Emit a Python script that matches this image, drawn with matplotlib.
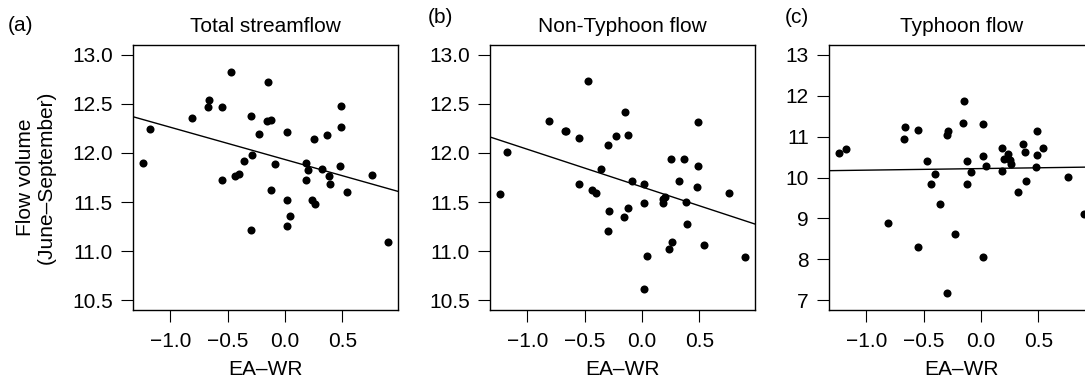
import numpy as np
import matplotlib
matplotlib.use("Agg")
import matplotlib.pyplot as plt

plt.rcParams['font.family'] = ['Liberation Sans', 'DejaVu Sans']

# EA-WR index (same for all three panels)
ea_wr = [-1.24, -1.18, -0.81, -0.67, -0.66, -0.55, -0.55, -0.47, -0.44, -0.40,
         -0.36, -0.30, -0.29, -0.30, -0.23, -0.15, -0.16, -0.12, -0.09, -0.12,
         0.02, 0.02, 0.04, 0.02, 0.18, 0.20, 0.18, 0.25, 0.235, 0.26,
         0.32, 0.37, 0.38, 0.39, 0.49, 0.49, 0.48, 0.545, 0.76, 0.90]

# flow volume (June-September)
total_flow = [11.90, 12.24, 12.36, 12.47, 12.54, 12.47, 11.72, 12.82, 11.77, 11.79,
              11.92, 12.38, 11.98, 11.22, 12.19, 12.72, 12.33, 12.34, 11.89, 11.62,
              12.21, 11.52, 11.36, 11.26, 11.90, 11.83, 11.72, 12.14, 11.52, 11.48,
              11.84, 12.18, 11.77, 11.68, 12.48, 12.26, 11.87, 11.60, 11.78, 11.09]

non_typhoon = [11.58, 12.01, 12.33, 12.22, 12.22, 12.15, 11.68, 12.73, 11.62, 11.59,
               11.84, 12.08, 11.41, 11.20, 12.17, 12.42, 11.35, 12.18, 11.71, 11.44,
               11.68, 11.49, 10.95, 10.61, 11.53, 11.55, 11.49, 11.94, 11.02, 11.09,
               11.71, 11.94, 11.50, 11.28, 12.32, 11.87, 11.65, 11.06, 11.59, 10.94]

typhoon = [10.59, 10.69, 8.88, 10.95, 11.24, 11.16, 8.29, 10.41, 9.83, 10.08,
           9.35, 11.04, 11.13, 7.18, 8.61, 11.87, 11.34, 10.40, 10.13, 9.85,
           11.31, 10.53, 10.28, 8.05, 10.71, 10.45, 10.16, 10.44, 10.57, 10.34,
           9.65, 10.81, 10.63, 9.91, 11.13, 10.56, 10.25, 10.71, 10.01, 9.11]

titles = ["Total streamflow", "Non-Typhoon flow", "Typhoon flow"]
panel_tags = ["(a)", "(b)", "(c)"]
x_ticks = [-1.0, -0.5, 0.0, 0.5]
x_ticklabels = ["\u22121.0", "\u22120.5", "0.0", "0.5"]
y_ticks_ab = [10.5, 11.0, 11.5, 12.0, 12.5, 13.0]
y_ticklabels_ab = ["10.5", "11.0", "11.5", "12.0", "12.5", "13.0"]
y_ticks_c = [7, 8, 9, 10, 11, 12, 13]
y_ticklabels_c = ["7", "8", "9", "10", "11", "12", "13"]

W, H = 1085, 383
fig = plt.figure(figsize=(W / 100, H / 100), dpi=100)

lefts = [133, 490, 829]
ax_w, ax_top, ax_bot = 265, 45, 310
series = [total_flow, non_typhoon, typhoon]
ylims = [(10.4, 13.1), (10.4, 13.1), (6.76, 13.24)]
yticks = [(y_ticks_ab, y_ticklabels_ab), (y_ticks_ab, y_ticklabels_ab), (y_ticks_c, y_ticklabels_c)]
tag_pos = [(8, 31), (428, 23), (785, 23)]

fs = 15
x = np.array(ea_wr)
xr = x.max() - x.min()
for i in range(3):
    ax = fig.add_axes([lefts[i] / W, 1 - ax_bot / H, ax_w / W, (ax_bot - ax_top) / H])
    y = np.array(series[i])
    ax.plot(x, y, 'o', color='black', markersize=5.8, markeredgewidth=0)
    m, b = np.polyfit(x, y, 1)
    ax.axline((0, b), slope=m, color='black', linewidth=1.0)
    ax.set_xlim(x.min() - 0.04 * xr, x.max() + 0.04 * xr)
    ax.set_ylim(*ylims[i])
    ax.set_xticks(x_ticks)
    ax.set_xticklabels(x_ticklabels)
    ax.set_yticks(yticks[i][0])
    ax.set_yticklabels(yticks[i][1])
    ax.tick_params(direction='out', length=8.6, width=0.8, labelsize=fs, pad=6)
    ax.tick_params(axis='x', pad=7)
    for s in ax.spines.values():
        s.set_linewidth(1.0)
    ax.set_title(titles[i], fontsize=fs, pad=9.5)
    ax.set_xlabel("EA\u2013WR", fontsize=fs, labelpad=7)
    fig.text(tag_pos[i][0] / W, 1 - tag_pos[i][1] / H, panel_tags[i], fontsize=fs,
             ha='left', va='baseline')

fig.text(36 / W, 1 - 177.5 / H, "Flow volume\n(June\u2013September)", rotation=90,
         ha='center', va='center', multialignment='center', fontsize=fs, linespacing=1.15)

fig.savefig("out.png", dpi=100)
